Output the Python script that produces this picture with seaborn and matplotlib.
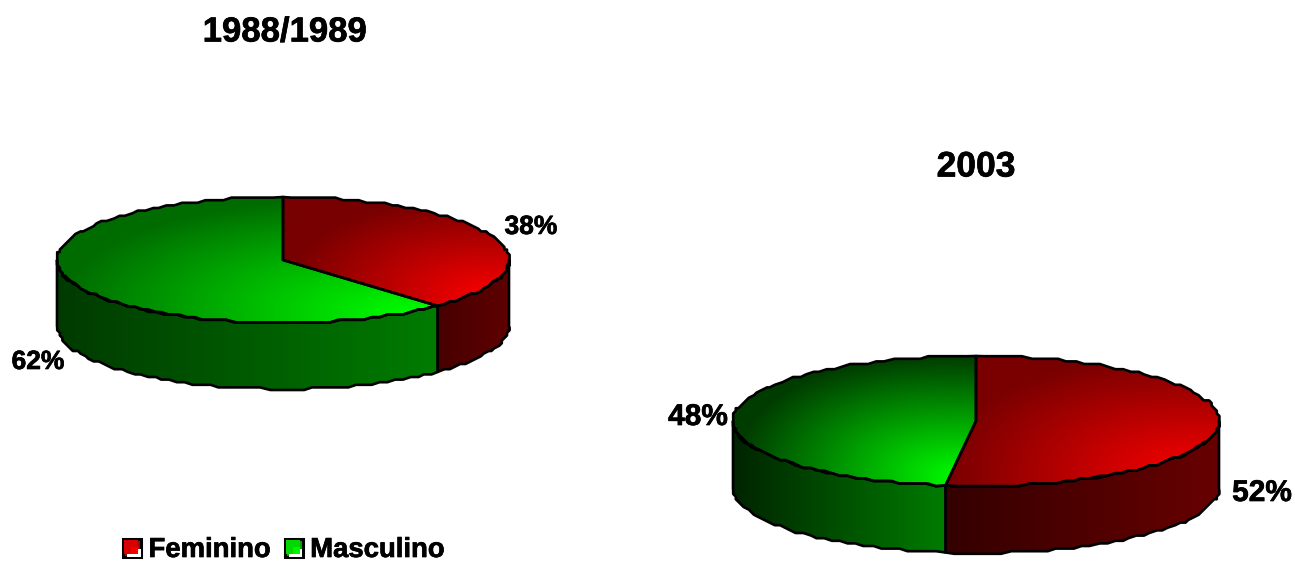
import numpy as np
import matplotlib
matplotlib.use("Agg")
import matplotlib.pyplot as plt
import matplotlib.patheffects as pe
from matplotlib.patches import PathPatch, Patch, Rectangle
from matplotlib.path import Path
from matplotlib.legend_handler import HandlerPatch
import seaborn as sns

# Gender shares per survey period
categories = ["Feminino", "Masculino"]
periods = ["1988/1989", "2003"]
shares_1989 = [38, 62]
shares_2003 = [52, 48]

sns.set_theme(style="white")
plt.rcParams["font.family"] = ["Liberation Sans", "DejaVu Sans"]
plt.rcParams["font.weight"] = "bold"
plt.rcParams["text.color"] = "black"

W, H = 1295, 562
fig = plt.figure(figsize=(W / 100, H / 100), dpi=100)
ax = fig.add_axes([0, 0, 1, 1])

EDGE = 1.9
GRID = 2.6
HEAVY = [pe.withStroke(linewidth=0.5, foreground="black")]


def ramp(dark, bright):
    return sns.blend_palette([dark, bright], n_colors=256, as_cmap=True)


def arc(cx, cy, a, b, t0, t1):
    """Points of a clockwise arc, angles measured from twelve o'clock, on a coarse raster."""
    n = max(2, int(abs(t1 - t0) / 2.2) + 1)
    th = np.radians(np.linspace(t0, t1, n))
    x = cx + a * np.sin(th)
    y = cy - b * np.cos(th)
    xq, yq = np.round(x / GRID) * GRID, np.round(y / GRID) * GRID
    xq[[0, -1]], yq[[0, -1]] = x[[0, -1]], y[[0, -1]]
    return np.column_stack([xq, yq])


def shaded(points, field_fn):
    """Fill a closed polygon with a gradient image and stroke its outline."""
    xmin, ymin = points.min(axis=0)
    xmax, ymax = points.max(axis=0)
    xs = np.linspace(xmin, xmax, 300)
    ys = np.linspace(ymin, ymax, 200)
    gx, gy = np.meshgrid(xs, ys)
    im = ax.imshow(field_fn(gx, gy, xmin, xmax, ymin, ymax),
                   extent=[xmin, xmax, ymax, ymin], origin="upper",
                   aspect="auto", interpolation="bilinear", zorder=2)
    patch = PathPatch(Path(np.vstack([points, points[:1]]), closed=True),
                      facecolor="none", edgecolor="black", lw=EDGE,
                      joinstyle="round", zorder=3)
    ax.add_patch(patch)
    im.set_clip_path(patch)


def top_field(cmap, p=2.4, reach=0.93, focus=0.06):
    def f(gx, gy, xmin, xmax, ymin, ymax):
        dx = np.abs(xmax - (xmax - xmin) * focus - gx) / (xmax - xmin)
        dy = np.abs(ymax - (ymax - ymin) * focus - gy) / (ymax - ymin)
        d = (dx ** p + dy ** p) ** (1 / p) / reach
        return cmap(1 - np.clip(d, 0, 1))
    return f


def side_field(cmap):
    def f(gx, gy, xmin, xmax, ymin, ymax):
        return cmap((gx - xmin) / (xmax - xmin))
    return f


def draw_pie(shares, cx, cy, a, b, depth, top_maps, side_maps):
    edges = np.concatenate([[0], np.cumsum(shares)]) * 3.6
    # Rim first, only the part of each slice facing the viewer
    for i in range(len(shares)):
        t0, t1 = max(edges[i], 90), min(edges[i + 1], 270)
        if t1 <= t0:
            continue
        upper = arc(cx, cy, a, b, t0, t1)
        lower = arc(cx, cy + depth, a, b, t0, t1)[::-1]
        shaded(np.vstack([upper, lower]), side_field(side_maps[i]))
    # Then the top face
    for i in range(len(shares)):
        rim = arc(cx, cy, a, b, edges[i], edges[i + 1])
        shaded(np.vstack([[[cx, cy]], rim]), top_field(top_maps[i]))


draw_pie(shares_1989, 283, 260, 226, 63, 66,
         [ramp("#780000", "#ff0000"), ramp("#006c00", "#00ff00")],
         [ramp("#480000", "#5e0000"), ramp("#003a00", "#007c00")])
draw_pie(shares_2003, 976, 421, 243, 65, 67,
         [ramp("#7a0000", "#ff0000"), ramp("#003c00", "#00ff00")],
         [ramp("#340000", "#680000"), ramp("#002400", "#007c00")])

ax.text(285, 32, periods[0], ha="center", va="center", fontsize=25, path_effects=HEAVY)
ax.text(976, 167, periods[1], ha="center", va="center", fontsize=25.5, path_effects=HEAVY)

for x, y, s, size in [(531, 227, shares_1989[0], 19), (38, 362, shares_1989[1], 19),
                      (1262, 493, shares_2003[0], 21.5), (698, 417, shares_2003[1], 21.5)]:
    ax.text(x, y, f"{s}%", ha="center", va="center", fontsize=size, path_effects=HEAVY)


class SwatchHandler(HandlerPatch):
    """Small square key with stepped shading and a white corner rim."""

    def create_artists(self, legend, orig, x, y, w, h, fontsize, trans):
        dark, mid, bright = orig.shades
        out = [Rectangle((x, y), w, h, facecolor=dark, edgecolor="black", lw=2.2, transform=trans)]
        out.append(Rectangle((x + w * .06, y + h * .16), w * .78, h * .78, facecolor=mid, lw=0, transform=trans))
        out.append(Rectangle((x + w * .45, y + h * .16), w * .39, h * .39, facecolor=bright, lw=0, transform=trans))
        out.append(Rectangle((x + w * .22, y + h * .04), w * .72, h * .12, facecolor="white", lw=0, transform=trans))
        out.append(Rectangle((x + w * .84, y + h * .04), w * .12, h * .4, facecolor="white", lw=0, transform=trans))
        return out


key_shades = [("#b00000", "#d80000", "#f40000"), ("#00a800", "#00d800", "#00f400")]
handles = []
for name, shades in zip(categories, key_shades):
    h = Patch(label=name)
    h.shades = shades
    handles.append(h)
leg = ax.legend(handles=handles, handler_map={Patch: SwatchHandler()}, loc="center",
                bbox_to_anchor=(284 / W, 1 - 550 / H), ncol=2, frameon=False,
                prop={"family": "Liberation Sans", "weight": "bold", "size": 19.8},
                handlelength=0.66, handleheight=0.66, handletextpad=0.26, columnspacing=0.5,
                borderpad=0, borderaxespad=0)
for t in leg.get_texts():
    t.set_color("black")
    t.set_path_effects(HEAVY)

ax.set_xlim(0, W)
ax.set_ylim(H, 0)
ax.axis("off")
fig.savefig("out.png", dpi=100, facecolor="white")
